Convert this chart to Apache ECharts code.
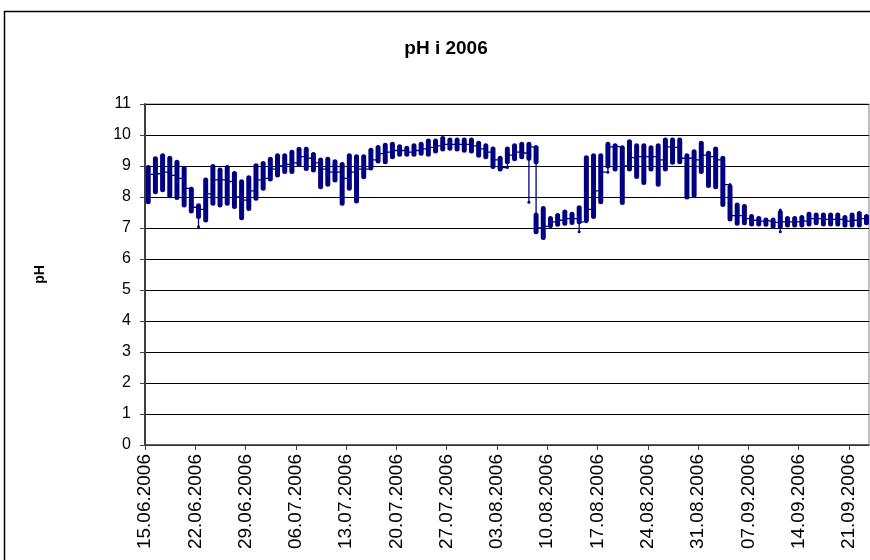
<!DOCTYPE html>
<html>
<head>
<meta charset="utf-8">
<script src="https://cdn.jsdelivr.net/npm/echarts@6/dist/echarts.min.js"></script>
<style>
html,body{margin:0;padding:0;background:#fff;}
#chart{width:870px;height:560px;}
</style>
</head>
<body>
<div id="chart"></div>
<script>
// Daily pH readings from 15.06.2006 (day 0) to 23.09.2006 (day 100)
const tickLabels = ['15.06.2006','22.06.2006','29.06.2006','06.07.2006','13.07.2006','20.07.2006','27.07.2006','03.08.2006','10.08.2006','17.08.2006','24.08.2006','31.08.2006','07.09.2006','14.09.2006','21.09.2006'];
const yTicks = [0,1,2,3,4,5,6,7,8,9,10,11];

// thick part of each day's range (low, high)
const lowVals = [7.85,8.17,8.23,8.04,7.98,7.74,7.55,7.37,7.26,7.80,
 7.74,7.80,7.69,7.33,7.63,7.96,8.28,8.58,8.71,8.82,
 8.82,9.05,8.92,8.87,8.33,8.41,8.55,7.80,8.28,7.87,
 8.65,8.94,9.16,9.14,9.30,9.38,9.38,9.38,9.41,9.38,
 9.48,9.55,9.57,9.55,9.51,9.48,9.35,9.30,8.98,8.90,
 9.14,9.23,9.30,9.25,9.14,6.69,7.08,7.12,7.15,7.18,
 7.20,7.26,7.37,7.85,9.00,8.90,7.82,8.90,8.66,8.47,
 8.90,8.41,8.90,9.12,9.14,8.00,8.06,8.82,8.37,8.33,
 7.76,7.29,7.15,7.17,7.13,7.13,7.12,7.06,7.05,7.10,
 7.10,7.10,7.13,7.17,7.13,7.13,7.13,7.10,7.10,7.10,
 7.17];
const highVals = [8.95,9.23,9.33,9.25,9.12,8.92,8.25,7.72,8.55,8.98,
 8.87,8.95,8.76,8.49,8.62,9.01,9.08,9.22,9.33,9.33,
 9.44,9.54,9.54,9.37,9.19,9.22,9.14,9.05,9.33,9.30,
 9.30,9.51,9.60,9.67,9.70,9.62,9.57,9.65,9.70,9.81,
 9.81,9.89,9.84,9.84,9.84,9.84,9.73,9.65,9.55,9.25,
 9.55,9.65,9.70,9.70,9.59,7.63,7.31,7.40,7.52,7.44,
 7.65,9.27,9.33,9.33,9.70,9.65,9.59,9.78,9.65,9.65,
 9.59,9.65,9.84,9.84,9.84,9.33,9.46,9.73,9.41,9.55,
 9.25,8.33,7.74,7.69,7.37,7.31,7.26,7.26,7.50,7.31,
 7.31,7.34,7.44,7.42,7.42,7.42,7.42,7.34,7.42,7.47,
 7.37];
// level at the end of each day (line to next day)
const midVals = [8.73,8.75,8.80,8.70,8.60,8.28,7.67,7.60,8.10,8.55,
 8.55,8.50,8.00,7.90,8.20,8.55,8.60,8.90,9.00,9.05,
 9.10,9.30,9.25,9.10,8.90,8.80,8.80,8.60,8.80,8.90,
 8.90,9.20,9.40,9.45,9.50,9.50,9.45,9.50,9.55,9.60,
 9.65,9.70,9.70,9.70,9.70,9.65,9.55,9.45,9.20,8.95,
 9.35,9.45,9.42,9.62,7.00,7.05,7.20,7.25,7.30,7.30,
 7.20,7.60,8.20,8.80,9.62,9.60,9.00,9.27,9.30,9.30,
 9.30,9.20,9.62,9.60,9.25,9.25,9.20,9.35,9.30,9.20,
 8.40,7.40,7.40,7.30,7.25,7.22,7.20,7.18,7.20,7.20,
 7.20,7.22,7.30,7.30,7.28,7.28,7.28,7.22,7.25,7.30,
 7.30];
// thin extensions beyond the thick part: [day, min, max]
const tails = [[7,7.04,null],[53,7.83,null],[54,6.88,null],[60,6.88,null],[88,6.88,7.58]];
// second thick part on a day: [day, low, high]
const extraBars = [[54,6.88,7.42]];

const X_OFF = 0.45;
const NAVY = '#000080';
const FONT = '"Liberation Sans", Arial, sans-serif';

const barData = lowVals.map((lo, d) => [d + X_OFF, lo, highVals[d]]);
extraBars.forEach(b => barData.push([b[0] + X_OFF, b[1], b[2]]));

const tailMap = {};
tails.forEach(t => tailMap[t[0]] = t);
const lineData = [];
lowVals.forEach((lo, d) => {
  const x = d + X_OFF;
  let mn = lo, mx = highVals[d];
  if (tailMap[d]) {
    if (tailMap[d][1] != null) mn = Math.min(mn, tailMap[d][1]);
    if (tailMap[d][2] != null) mx = Math.max(mx, tailMap[d][2]);
  }
  const start = d === 0 ? midVals[0] : midVals[d - 1];
  lineData.push([x, start], [x, mn], [x, mx], [x, midVals[d]]);
});

const chart = echarts.init(document.getElementById('chart'), null, {renderer: 'canvas'});
chart.setOption({
  animation: false,
  backgroundColor: '#fff',
  title: {
    text: 'pH i 2006', left: 441, top: 34, textAlign: 'center',
    textStyle: {fontFamily: FONT, fontSize: 19, fontWeight: 'bold', color: '#000'}
  },
  graphic: [{
    type: 'rect', shape: {x: 4.5, y: 11.5, width: 1000, height: 1000},
    style: {fill: 'none', stroke: '#000', lineWidth: 1.5}, silent: true
  }],
  grid: {left: 145, right: 1, top: 104, bottom: 115, show: true, borderColor: '#808080', borderWidth: 1},
  xAxis: {
    type: 'value', min: 0, max: 100.8, interval: 7,
    axisLine: {show: true, lineStyle: {color: '#404040', width: 1.5}},
    axisTick: {show: true, length: 5, lineStyle: {color: '#404040'}},
    splitLine: {show: false},
    axisLabel: {
      rotate: 90, margin: 9, fontFamily: FONT, fontSize: 19, color: '#000',
      showMaxLabel: false,
      formatter: v => { const i = Math.round(v / 7); return (Math.abs(v - i * 7) < 1e-6 && tickLabels[i]) ? tickLabels[i] : ''; }
    }
  },
  yAxis: {
    type: 'value', min: yTicks[0], max: yTicks[yTicks.length - 1], interval: 1,
    name: 'pH', nameLocation: 'middle', nameRotate: 90, nameGap: 98,
    nameTextStyle: {fontFamily: FONT, fontSize: 14, fontWeight: 'bold', color: '#000'},
    axisLine: {show: true, lineStyle: {color: '#404040', width: 2}},
    axisTick: {show: true, length: 5, lineStyle: {color: '#404040'}},
    splitLine: {show: true, lineStyle: {color: '#000', width: 1}},
    axisLabel: {margin: 14, fontFamily: FONT, fontSize: 16, color: '#000'}
  },
  series: [
    {
      type: 'line', data: lineData, z: 3,
      lineStyle: {color: NAVY, width: 1.3},
      itemStyle: {color: NAVY},
      symbol: 'circle', symbolSize: 3, showSymbol: true
    },
    {
      type: 'custom', data: barData, z: 4,
      encode: {x: 0, y: [1, 2]},
      renderItem: (params, api) => {
        const x = api.value(0), lo = api.value(1), hi = api.value(2);
        const p1 = api.coord([x, hi]), p2 = api.coord([x, lo]);
        const w = 5;
        return {
          type: 'rect',
          shape: {x: p1[0] - w / 2, y: p1[1] - w / 2, width: w, height: p2[1] - p1[1] + w, r: w / 2},
          style: {fill: NAVY}
        };
      }
    }
  ]
});
</script>
</body>
</html>
